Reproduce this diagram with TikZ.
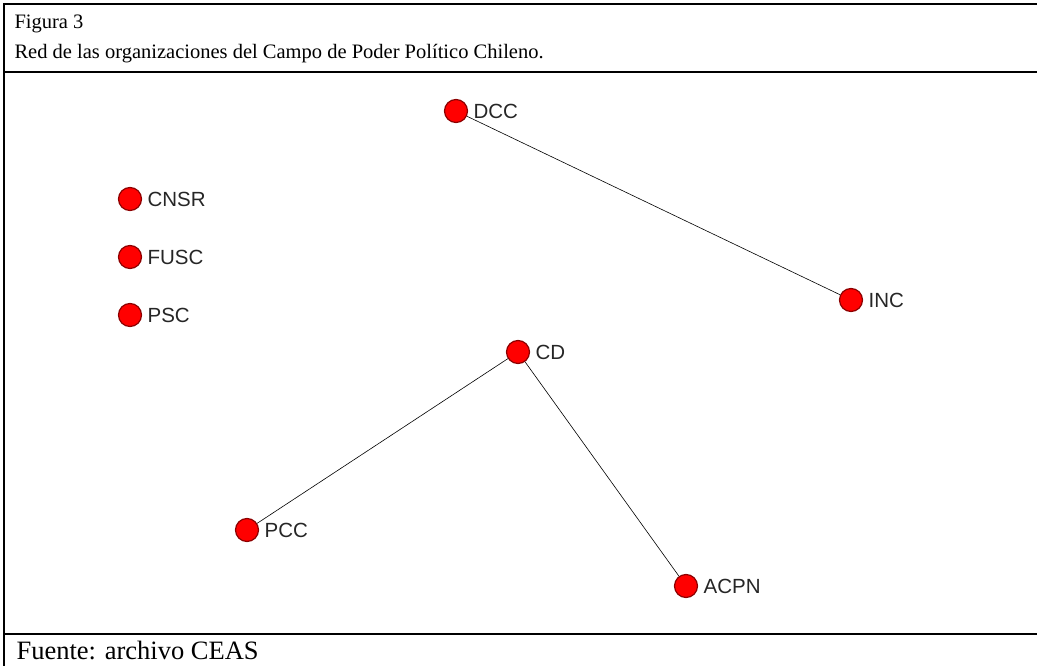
\documentclass[tikz,border=0pt]{standalone}
\usepackage{fontspec}
\setmainfont{Liberation Serif}
\setsansfont{Liberation Sans}
\usetikzlibrary{positioning}

\begin{document}
\begin{tikzpicture}[x=1pt,y=-1pt,
	org/.style={circle,draw=red!55!black,fill=red,line width=1.2pt,minimum size=23pt,inner sep=0pt,
		label={[label distance=2pt,font=\sffamily\fontsize{20.5}{22}\selectfont,text=black!85]right:#1}},
	frame/.style={line width=2.6pt}]
	\useasboundingbox (0,0) rectangle (1037,666);

	% marco
	\draw[frame] (4,666) -- (4,4) -- (1037,4);
	\draw[frame] (4,72) -- (1037,72);
	\draw[frame] (4,634) -- (1037,634);

	\node[anchor=base west,font=\fontsize{20.5}{22}\selectfont] (fig) at (11,29) {Figura 3};
	\node[anchor=base west,font=\fontsize{20.5}{22}\selectfont] (title) at (11,59) {Red de las organizaciones del Campo de Poder Político Chileno.};
	\node[anchor=base west,font=\fontsize{26.5}{28}\selectfont] (src) at (13,659) {Fuente: archivo CEAS};

	% organizaciones
	\node[org=DCC] (DCC) at (456,111) {};
	\node[org=CNSR] (CNSR) at (130,199) {};
	\node[org=FUSC] (FUSC) at (130,257) {};
	\node[org=PSC] (PSC) at (130,315) {};
	\node[org=INC] (INC) at (851,300) {};
	\node[org=CD] (CD) at (518,352) {};
	\node[org=PCC] (PCC) at (247,530) {};
	\node[org=ACPN] (ACPN) at (686,586) {};

	\draw[semithick] (DCC) -- (INC);
	\draw[semithick] (CD) -- (PCC);
	\draw[semithick] (CD) -- (ACPN);
\end{tikzpicture}
\end{document}
